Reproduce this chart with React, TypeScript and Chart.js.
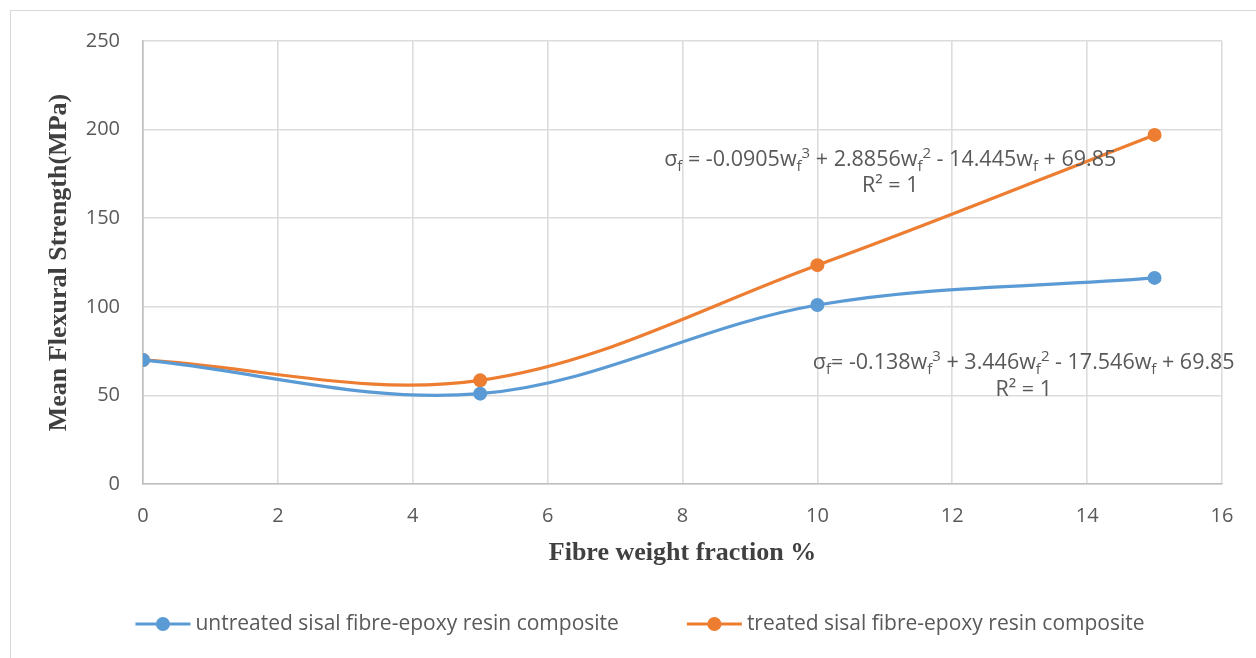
import React, { useEffect, useRef } from "react";
import { Chart, registerables } from "chart.js";

Chart.register(...registerables);

// ---------- data ----------
const fibreFraction = [0, 5, 10, 15];
const untreatedStrength = [70, 51.0, 101.0, 116.3];
const treatedStrength = [70, 58.5, 123.5, 197.0];
const seriesLabels = [
  "untreated sisal fibre-epoxy resin composite",
  "treated sisal fibre-epoxy resin composite",
];
const seriesColors = ["#5b9bd5", "#ed7d31"];
const xTitle = "Fibre weight fraction %";
const yTitle = "Mean Flexural Strength(MPa)";

type Seg = { t: string; sub?: boolean; sup?: boolean };
const treatedEquation: Seg[] = [
  { t: "σ" }, { t: "f", sub: true }, { t: " = -0.0905w" }, { t: "f", sub: true }, { t: "3", sup: true },
  { t: " + 2.8856w" }, { t: "f", sub: true }, { t: "2", sup: true },
  { t: " - 14.445w" }, { t: "f", sub: true }, { t: " + 69.85" },
];
const untreatedEquation: Seg[] = [
  { t: "σ" }, { t: "f", sub: true }, { t: "= -0.138w" }, { t: "f", sub: true }, { t: "3", sup: true },
  { t: " + 3.446w" }, { t: "f", sub: true }, { t: "2", sup: true },
  { t: " - 17.546w" }, { t: "f", sub: true }, { t: " + 69.85" },
];
const rSquaredText = "R² = 1";

// annotation anchors (data coordinates)
const treatedEqAnchor = { x: 11.08, y: 182.8, y2: 168.2 };
const untreatedEqAnchor = { x: 13.06, y: 68.3, y2: 53.0 };

const SANS = "'Open Sans', sans-serif";
const SERIF = "'Liberation Serif', 'Times New Roman', serif";
const TEXT_COLOR = "#595959";
const TICK_SIZE = 20;
const EQ_SIZE = 21.5;
const LEGEND_SIZE = 21;

function drawRich(ctx: CanvasRenderingContext2D, segs: Seg[], cx: number, cy: number, size: number) {
  const small = Math.round(size * 0.68);
  const widths = segs.map((s) => {
    ctx.font = `${s.sub || s.sup ? small : size}px ${SANS}`;
    return ctx.measureText(s.t).width;
  });
  const total = widths.reduce((a, b) => a + b, 0);
  let x = cx - total / 2;
  ctx.textBaseline = "middle";
  ctx.textAlign = "left";
  segs.forEach((s, i) => {
    ctx.font = `${s.sub || s.sup ? small : size}px ${SANS}`;
    let dy = 0;
    if (s.sub) dy = size * 0.3;
    if (s.sup) dy = -size * 0.3;
    ctx.fillText(s.t, x, cy + dy);
    x += widths[i];
  });
}

const decorPlugin = {
  id: "decor",
  beforeDraw(chart: any) {
    const ctx = chart.ctx;
    ctx.save();
    ctx.strokeStyle = "#d9d9d9";
    ctx.lineWidth = 1;
    ctx.strokeRect(10.5, 10.5, chart.width + 20, chart.height + 20);
    ctx.restore();
  },
  afterDraw(chart: any) {
    const ctx = chart.ctx;
    const xs = chart.scales.x;
    const ys = chart.scales.y;
    ctx.save();
    ctx.fillStyle = TEXT_COLOR;
    // equations
    drawRich(ctx, treatedEquation, xs.getPixelForValue(treatedEqAnchor.x), ys.getPixelForValue(treatedEqAnchor.y), EQ_SIZE);
    drawRich(ctx, [{ t: rSquaredText }], xs.getPixelForValue(treatedEqAnchor.x), ys.getPixelForValue(treatedEqAnchor.y2), EQ_SIZE);
    drawRich(ctx, untreatedEquation, xs.getPixelForValue(untreatedEqAnchor.x), ys.getPixelForValue(untreatedEqAnchor.y), EQ_SIZE);
    drawRich(ctx, [{ t: rSquaredText }], xs.getPixelForValue(untreatedEqAnchor.x), ys.getPixelForValue(untreatedEqAnchor.y2), EQ_SIZE);

    // legend
    ctx.font = `${LEGEND_SIZE}px ${SANS}`;
    const markerW = 55;
    const gap = 5;
    const spacing = 68;
    const tw = seriesLabels.map((l) => ctx.measureText(l).width);
    const total = tw.reduce((a, b) => a + b, 0) + 2 * (markerW + gap) + spacing;
    let x = 640 - total / 2;
    const ly = 624;
    seriesLabels.forEach((label, i) => {
      ctx.strokeStyle = seriesColors[i];
      ctx.fillStyle = seriesColors[i];
      ctx.lineWidth = 3;
      ctx.beginPath();
      ctx.moveTo(x, ly);
      ctx.lineTo(x + markerW, ly);
      ctx.stroke();
      ctx.beginPath();
      ctx.arc(x + markerW / 2, ly, 7, 0, Math.PI * 2);
      ctx.fill();
      ctx.fillStyle = TEXT_COLOR;
      ctx.textAlign = "left";
      ctx.textBaseline = "middle";
      ctx.fillText(label, x + markerW + gap, ly);
      x += markerW + gap + tw[i] + spacing;
    });
    ctx.restore();
  },
};

export default function App() {
  const canvasRef = useRef<HTMLCanvasElement | null>(null);

  useEffect(() => {
    document.body.style.margin = "0";
    const canvas = canvasRef.current;
    if (!canvas) return;
    const chart = new Chart(canvas, {
      type: "line",
      data: {
        datasets: [
          {
            label: seriesLabels[0],
            data: fibreFraction.map((x, i) => ({ x, y: untreatedStrength[i] })),
            borderColor: seriesColors[0],
            backgroundColor: seriesColors[0],
            borderWidth: 3.2,
            pointRadius: 7,
            pointBorderWidth: 0,
            tension: 0.35,
          },
          {
            label: seriesLabels[1],
            data: fibreFraction.map((x, i) => ({ x, y: treatedStrength[i] })),
            borderColor: seriesColors[1],
            backgroundColor: seriesColors[1],
            borderWidth: 3.2,
            pointRadius: 7,
            pointBorderWidth: 0,
            tension: 0.35,
          },
        ],
      },
      options: {
        responsive: false,
        animation: false,
        devicePixelRatio: 1,
        layout: { padding: { left: 0, right: 34, top: 41, bottom: 84 } },
        plugins: {
          legend: { display: false },
          tooltip: { enabled: false },
        },
        scales: {
          x: {
            type: "linear",
            min: 0,
            max: 16,
            ticks: { stepSize: 2, color: TEXT_COLOR, font: { family: SANS, size: TICK_SIZE }, padding: 20 },
            grid: { color: "#dcdcdc", lineWidth: 1.6, drawTicks: false },
            border: { color: "#bfbfbf", width: 1.6 },
            title: {
              display: true,
              text: xTitle,
              color: "#404040",
              font: { family: SERIF, size: 26, weight: "bold" },
              padding: { top: 0, bottom: 5 },
            },
            afterFit: (scale: any) => {
              scale.height = 90;
            },
          },
          y: {
            min: 0,
            max: 250,
            ticks: { stepSize: 50, color: TEXT_COLOR, font: { family: SANS, size: TICK_SIZE }, padding: 23 },
            grid: { color: "#dcdcdc", lineWidth: 1.6, drawTicks: false },
            border: { color: "#bfbfbf", width: 1.6 },
            title: {
              display: true,
              text: yTitle,
              color: "#404040",
              font: { family: SERIF, size: 26, weight: "bold" },
              padding: { top: 44, bottom: 0 },
            },
            afterFit: (scale: any) => {
              scale.width = 143;
            },
          },
        },
      } as any,
      plugins: [decorPlugin],
    });
    return () => chart.destroy();
  }, []);

  return (
    <div style={{ width: 1256, height: 658, background: "#fff" }}>
      <canvas ref={canvasRef} width={1256} height={658} />
    </div>
  );
}
